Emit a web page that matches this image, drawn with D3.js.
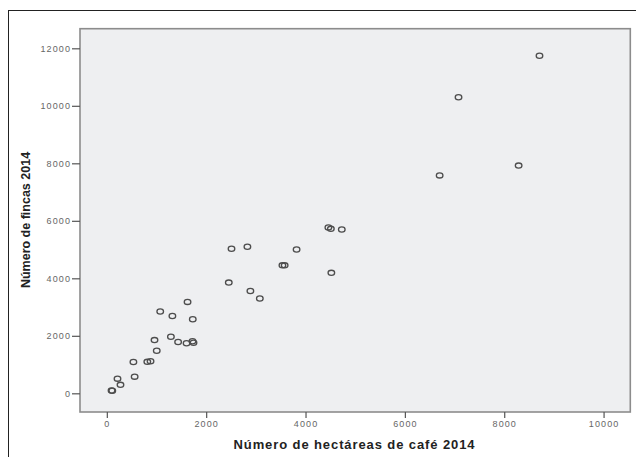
<!DOCTYPE html>
<html>
<head>
<meta charset="utf-8">
<script src="https://cdn.jsdelivr.net/npm/d3@7"></script>
<style>
  html, body { margin: 0; padding: 0; background: #fff; }
  svg { display: block; }
</style>
</head>
<body>
<svg id="chart" width="636" height="457"></svg>
<script>
// Data: hectares of coffee (x) vs number of farms (y), 2014
const hectareas = [8710, 7080, 8290, 6700, 4460, 4510, 4730, 4520, 3820, 3535, 3580,
  2830, 2510, 2455, 2890, 3080, 1625, 1075, 1320, 1730, 1290, 960, 1435, 1605,
  1725, 1745, 1005, 535, 815, 880, 215, 560, 275, 95, 110];
const fincas = [11740, 10300, 7920, 7580, 5770, 5720, 5700, 4190, 5000, 4450, 4450,
  5100, 5030, 3850, 3560, 3300, 3180, 2845, 2690, 2575, 1965, 1850, 1785, 1740,
  1810, 1760, 1480, 1090, 1095, 1115, 510, 580, 295, 100, 90];
const xTicks = [0, 2000, 4000, 6000, 8000, 10000];
const yTicks = [0, 2000, 4000, 6000, 8000, 10000, 12000];
const xTitle = "Número de hectáreas de café 2014";
const yTitle = "Número de fincas 2014";

const svg = d3.select("#chart");
const plot = { left: 80, top: 28.7, right: 630.3, bottom: 412 };

// outer frame
svg.append("rect")
  .attr("x", 8.5).attr("y", 10.5).attr("width", 640).attr("height", 460)
  .attr("fill", "none").attr("stroke", "#222").attr("stroke-width", 1);

const x = d3.scaleLinear().domain([-540, 10538]).range([plot.left, plot.right]);
const y = d3.scaleLinear().domain([-650, 12682]).range([plot.bottom, plot.top]);

// plot background
svg.append("rect")
  .attr("x", plot.left).attr("y", plot.top)
  .attr("width", plot.right - plot.left).attr("height", plot.bottom - plot.top)
  .attr("fill", "#eeeff1").attr("stroke", "#8c8c8c").attr("stroke-width", 1.6);

const tickFont = "'Liberation Sans', Arial, sans-serif";

const xAxis = svg.append("g")
  .attr("transform", `translate(0,${plot.bottom})`)
  .call(d3.axisBottom(x).tickValues(xTicks).tickFormat(d3.format("d")).tickSize(6).tickSizeOuter(0).tickPadding(3));
const yAxis = svg.append("g")
  .attr("transform", `translate(${plot.left},0)`)
  .call(d3.axisLeft(y).tickValues(yTicks).tickFormat(d3.format("d")).tickSize(8).tickSizeOuter(0).tickPadding(1));

[xAxis, yAxis].forEach(g => {
  g.select(".domain").remove();
  g.selectAll(".tick line").attr("stroke", "#555").attr("stroke-width", 1.2);
  g.selectAll(".tick text")
    .attr("fill", "#666")
    .style("font-family", tickFont)
    .style("font-size", "9px")
    .style("letter-spacing", "1.1px");
});

// points
svg.append("g").selectAll("ellipse")
  .data(hectareas.map((h, i) => [h, fincas[i]]))
  .join("ellipse")
  .attr("cx", d => x(d[0]))
  .attr("cy", d => y(d[1]))
  .attr("rx", 3.3).attr("ry", 2.6)
  .attr("fill", "none")
  .attr("stroke", "#4d4d4d")
  .attr("stroke-width", 1.3);

// axis titles
svg.append("text")
  .attr("x", 354.5).attr("y", 449)
  .attr("text-anchor", "middle")
  .style("font-family", tickFont)
  .style("font-weight", "bold")
  .style("font-size", "13px")
  .style("letter-spacing", "0.9px")
  .attr("fill", "#222")
  .text(xTitle);

svg.append("text")
  .attr("transform", "translate(30,220) rotate(-90)")
  .attr("text-anchor", "middle")
  .style("font-family", tickFont)
  .style("font-weight", "bold")
  .style("font-size", "12.5px")
  .attr("fill", "#222")
  .text(yTitle);
</script>
</body>
</html>
